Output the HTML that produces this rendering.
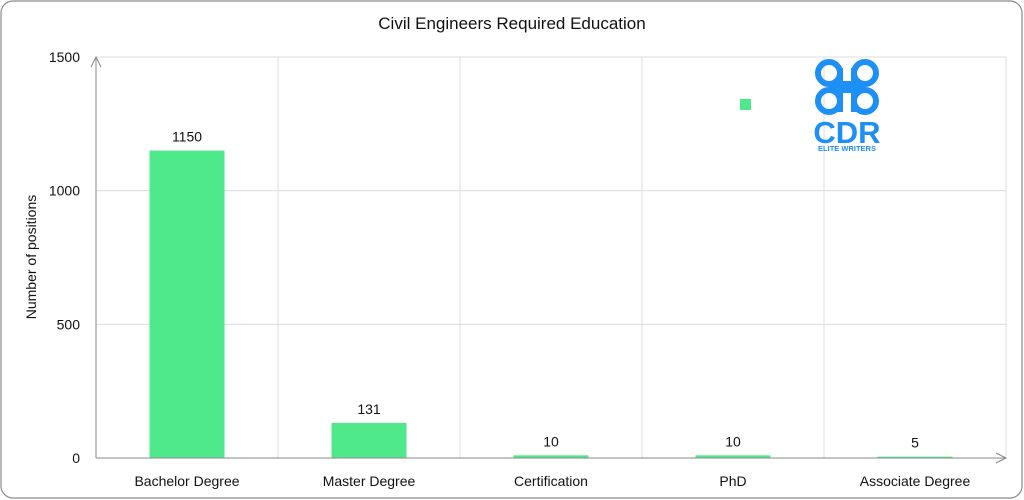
<!DOCTYPE html>
<html><head><meta charset="utf-8"><style>
html,body{margin:0;padding:0;background:#fff;}
svg{display:block;font-family:"Liberation Sans",sans-serif;}
</style></head><body>
<svg id="chart" width="1024" height="500" viewBox="0 0 1024 500">
<rect x="1" y="1" width="1021" height="497" rx="12" fill="#fff" stroke="#8a8a8a" stroke-width="1.2"/>
<text x="512" y="29" text-anchor="middle" font-size="17" fill="#111">Civil Engineers Required Education</text>
<g id="grid"></g>
<g id="bars"></g>
<g id="axes"></g>
<text transform="translate(36,257) rotate(-90)" text-anchor="middle" font-size="14" fill="#111">Number of positions</text>
<rect x="740" y="99" width="11" height="11" fill="#4fe88a"/>
<g fill="none" stroke="#1e8ff5" stroke-width="6">
<circle cx="829" cy="73" r="11"/><circle cx="865" cy="73" r="11"/>
<circle cx="829" cy="101" r="11"/><circle cx="865" cy="101" r="11"/>
<line x1="840" y1="68" x2="840" y2="112"/><line x1="854" y1="68" x2="854" y2="112"/>
<line x1="829" y1="84" x2="865" y2="84"/><line x1="829" y1="90" x2="865" y2="90"/>
<text x="847" y="143" text-anchor="middle" font-size="31" fill="#1e8ff5" stroke="none" font-weight="bold">CDR</text>
<text x="847" y="151" text-anchor="middle" font-size="7.5" fill="#1e8ff5" stroke="none" font-weight="bold">ELITE WRITERS</text>
</g>
</svg>
<script>
const categories = ["Bachelor Degree","Master Degree","Certification","PhD","Associate Degree"];
const values = [1150,131,10,10,5];
const yTicks = [0,500,1000,1500];
const NS="http://www.w3.org/2000/svg";
const x0=96, x1=1006, yBase=458, yTop=57, yMax=1500;
const band=(x1-x0)/categories.length;
const xc=i=>x0+band*(i+0.5);
const y=v=>yBase-(v/yMax)*(yBase-yTop);
function mk(tag,attrs,parent){const e=document.createElementNS(NS,tag);for(const k in attrs)e.setAttribute(k,attrs[k]);document.getElementById(parent).appendChild(e);return e;}
yTicks.forEach(t=>{
  if(t>0){const l=mk('line',{x1:x0,x2:x1,y1:y(t),y2:y(t),stroke:'#dcdcdc','stroke-width':1},'grid');
  
  }
  const tx=mk('text',{x:80,y:y(t)+5,'text-anchor':'end','font-size':14,fill:'#111'},'axes');
  tx.textContent=t;
  
  
});
for(let i=1;i<=categories.length;i++){
  const l=mk('line',{x1:x0+band*i,x2:x0+band*i,y1:yTop,y2:yBase,stroke:'#dcdcdc','stroke-width':1},'grid');
  
  
}
categories.forEach((c,i)=>{
  const bw=75;
  const r=mk('rect',{x:xc(i)-bw/2,y:y(values[i]),width:bw,height:yBase-y(values[i]),fill:'#4fe88a'},'bars');
  
  
  const v=mk('text',{x:xc(i),y:y(values[i])-9,'text-anchor':'middle','font-size':14,fill:'#111'},'bars');
  v.textContent=values[i];
  
  
  const t=mk('text',{x:xc(i),y:486,'text-anchor':'middle','font-size':14,fill:'#111'},'axes');
  t.textContent=c;
  
  
});
const ax=mk('path',{d:`M${x0} ${yBase} L${x0} ${yTop} M${x0-5} ${yTop+10} L${x0} ${yTop} L${x0+5} ${yTop+10} M${x0} ${yBase} L${x1} ${yBase} M${x1-10} ${yBase-5} L${x1} ${yBase} L${x1-10} ${yBase+5}`,stroke:'#888',fill:'none','stroke-width':1},'axes');


</script>
</body></html>
